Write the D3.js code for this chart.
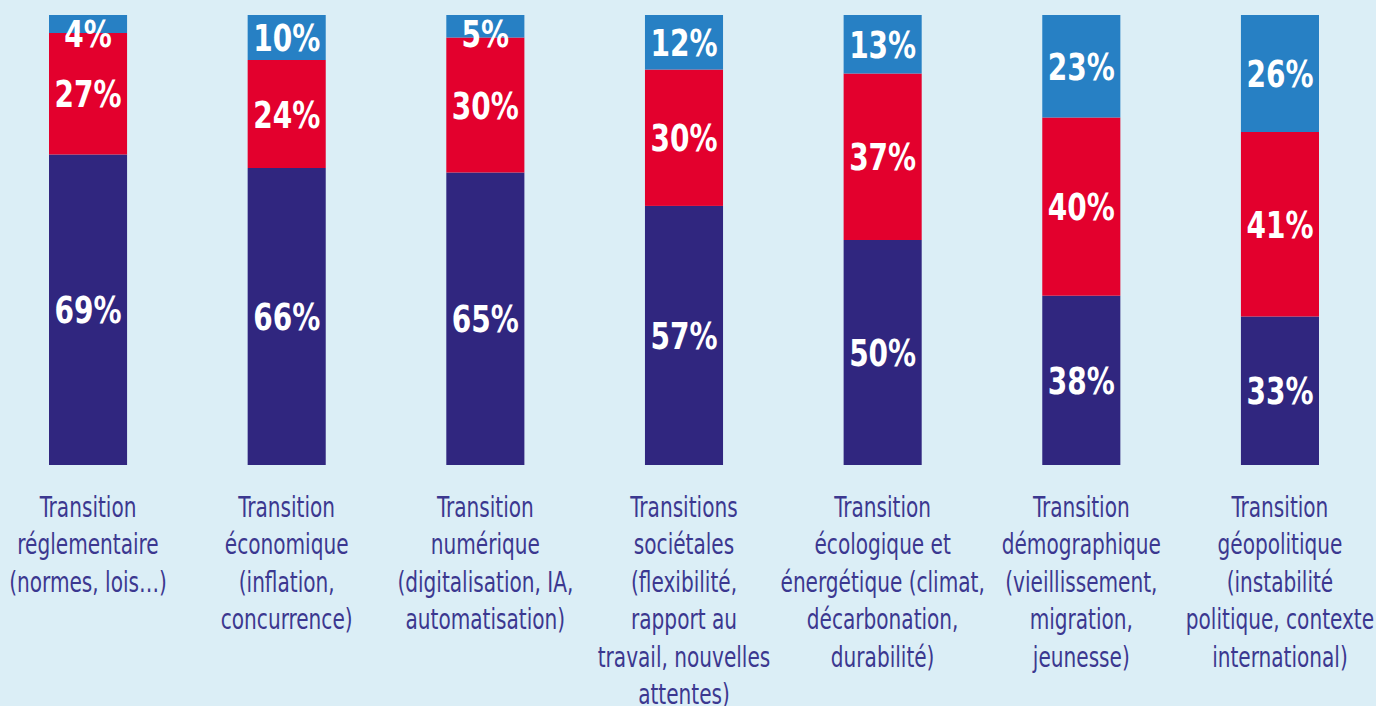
<!DOCTYPE html>
<html>
<head>
<meta charset="utf-8">
<script src="https://cdn.jsdelivr.net/npm/d3@7"></script>
<style>
  html, body { margin: 0; padding: 0; background: #dbeef6; }
  svg { display: block; }
</style>
</head>
<body>
<script>
// categories (each label split into lines as in the picture)
const categories = [
  ["Transition", "réglementaire", "(normes, lois…)"],
  ["Transition", "économique", "(inflation,", "concurrence)"],
  ["Transition", "numérique", "(digitalisation, IA,", "automatisation)"],
  ["Transitions", "sociétales", "(flexibilité,", "rapport au", "travail, nouvelles", "attentes)"],
  ["Transition", "écologique et", "énergétique (climat,", "décarbonation,", "durabilité)"],
  ["Transition", "démographique", "(vieillissement,", "migration,", "jeunesse)"],
  ["Transition", "géopolitique", "(instabilité", "politique, contexte", "international)"]
];

// series values, bottom to top
const bas = [69, 66, 65, 57, 50, 38, 33];
const milieu = [27, 24, 30, 30, 37, 40, 41];
const haut = [4, 10, 5, 12, 13, 23, 26];

const keys = ["bas", "milieu", "haut"];
const colors = {bas: "#30267f", milieu: "#e3002d", haut: "#2780c4"};

const width = 1376, height = 706;

const svg = d3.select("body").append("svg")
  .attr("width", width)
  .attr("height", height);

svg.append("rect").attr("width", width).attr("height", height).attr("fill", "#dbeef6");

const rows = categories.map((c, i) => ({id: i, bas: bas[i], milieu: milieu[i], haut: haut[i]}));

const xScale = d3.scaleBand()
  .domain(rows.map(d => d.id))
  .range([49, 1319])
  .paddingInner(0.607)
  .paddingOuter(0);

const yScale = d3.scaleLinear()
  .domain([0, 1])
  .range([465, 15]);

const stack = d3.stack().keys(keys).offset(d3.stackOffsetExpand);
const series = stack(rows);

const groups = svg.append("g").selectAll("g")
  .data(series)
  .join("g")
  .attr("fill", d => colors[d.key]);

groups.selectAll("rect")
  .data(d => d)
  .join("rect")
  .attr("x", d => xScale(d.data.id))
  .attr("y", d => yScale(d[1]))
  .attr("width", xScale.bandwidth())
  .attr("height", d => yScale(d[0]) - yScale(d[1]));

const font = "'DejaVu Sans Condensed', 'DejaVu Sans', sans-serif";

// percentage labels in each segment (kept inside the bar at the top)
series.forEach(s => {
  svg.append("g").selectAll("text")
    .data(s)
    .join("text")
    .attr("transform", d => {
      const cx = xScale(d.data.id) + xScale.bandwidth() / 2;
      const cy = Math.max((yScale(d[0]) + yScale(d[1])) / 2, yScale(1) + 18);
      return `translate(${cx},${cy}) scale(0.82,1)`;
    })
    .attr("dy", "0.36em")
    .attr("text-anchor", "middle")
    .attr("fill", "#fff")
    .style("font-family", font)
    .style("font-weight", "bold")
    .style("font-size", "38px")
    .text(d => d.data[s.key] + "%");
});

// category labels under the bars
const xaxis = svg.append("g");
categories.forEach((lines, i) => {
  const cx = xScale(i) + xScale.bandwidth() / 2;
  const t = xaxis.append("text")
    .attr("transform", `translate(${cx},517) scale(0.77,1)`)
    .attr("text-anchor", "middle")
    .attr("fill", "#3b3890")
    .style("font-family", font)
    .style("font-size", "29px");
  lines.forEach((l, j) => {
    t.append("tspan")
      .attr("x", 0)
      .attr("y", j * 37.5)
      .text(l);
  });
});
</script>
</body>
</html>
